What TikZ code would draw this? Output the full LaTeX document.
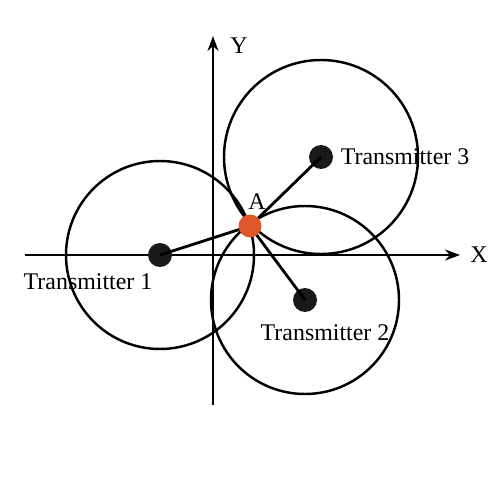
\documentclass[tikz,border=0pt]{standalone}
\usepackage{fontspec}
\setmainfont{Liberation Serif}
\usetikzlibrary{positioning,arrows.meta}
\definecolor{dotorange}{RGB}{224,88,42}
\begin{document}
\begin{tikzpicture}[x=0.02cm,y=-0.02cm,line width=1.1pt,font=\fontsize{13.6}{16}\selectfont]
	\tikzstyle{TX}=[circle,fill=black!90,minimum size=0.48cm,inner sep=0pt] % TX = transmitter dot
	\tikzstyle{RX}=[circle,fill=dotorange,minimum size=0.46cm,inner sep=0pt] % RX = point A
	\tikzstyle{rangecircle}=[line width=1.4pt] % range circle
	\tikzstyle{link}=[line width=1.6pt]
	\useasboundingbox (0,0) rectangle (500,500);
	% axes
	\coordinate (xs) at (25,255);
	\coordinate (xe) at (460,255);
	\coordinate (ys) at (213,405);
	\coordinate (ye) at (213,36);
	\draw[-{Stealth[length=0.3cm,width=0.22cm]}](xs)--(xe);
	\draw[-{Stealth[length=0.3cm,width=0.22cm]}](ys)--(ye);
	\node(X)[right=2pt of xe]{X};
	\node(Y)[right=6pt of ye,yshift=-0.2cm]{Y};
	% transmitters and point A
	\node(T1)[TX] at (160,255){};
	\node(T2)[TX] at (305,300){};
	\node(T3)[TX] at (321,157){};
	\coordinate(A) at (250,226);
	% range circles
	\draw[rangecircle](T1.center) circle (94);
	\draw[rangecircle](T2.center) circle (94);
	\draw[rangecircle](T3.center) circle (97);
	% links
	\draw[link](A)--(T1.center);
	\draw[link](A)--(T2.center);
	\draw[link](A)--(T3.center);
	\node(Adot)[RX] at (A){};
	\node(AL) at (257,202){A};
	% labels
	\node(L1) at (88,282){Transmitter 1};
	\node(L2) at (325,333){Transmitter 2};
	\node(L3)[right=0pt of T3]{Transmitter 3};
\end{tikzpicture}
\end{document}
